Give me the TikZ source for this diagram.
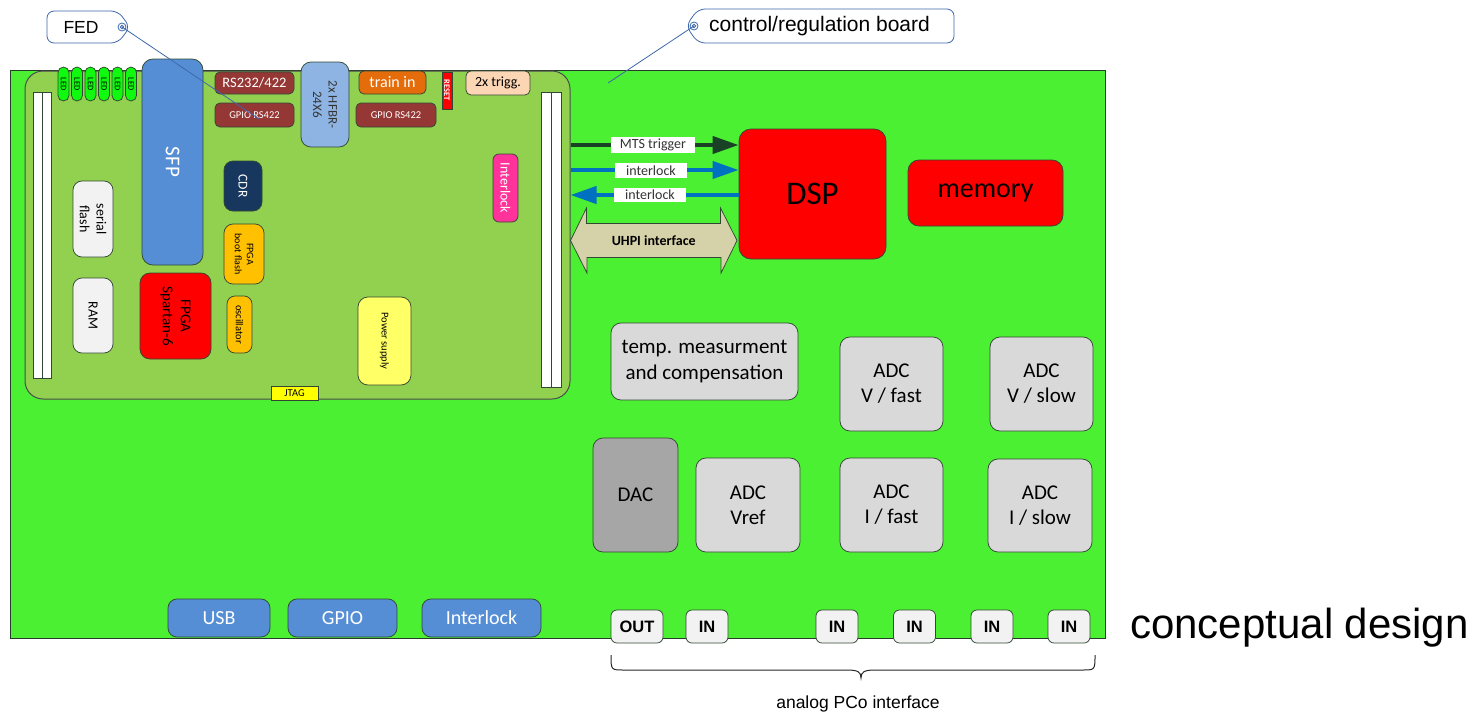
\documentclass[tikz,border=0pt]{standalone}
\usepackage{fontspec}
\setmainfont{Carlito}
\newfontfamily\arialfont{Liberation Sans}
\usetikzlibrary{arrows.meta,calc}
\newcommand\fsz[1]{\fontsize{#1}{\fpeval{1.2*#1}}\selectfont}

\definecolor{maingreen}{RGB}{76,240,50}
\definecolor{boardgreen}{RGB}{146,208,80}
\definecolor{edgec}{RGB}{50,72,52}
\definecolor{ledgreen}{RGB}{16,250,16}
\definecolor{sfpblue}{RGB}{85,142,213}
\definecolor{hfbrblue}{RGB}{142,180,227}
\definecolor{rsbrown}{RGB}{149,55,53}
\definecolor{trainorange}{RGB}{228,108,10}
\definecolor{peach}{RGB}{252,213,181}
\definecolor{navy}{RGB}{23,55,94}
\definecolor{gold}{RGB}{255,192,0}
\definecolor{chipgray}{RGB}{242,242,242}
\definecolor{pinkil}{RGB}{255,51,153}
\definecolor{psyellow}{RGB}{255,255,102}
\definecolor{jtagyellow}{RGB}{255,255,0}
\definecolor{mtsgreen}{RGB}{25,65,38}
\definecolor{ilblue}{RGB}{0,112,192}
\definecolor{uhpifill}{RGB}{213,209,168}
\definecolor{adcgray}{RGB}{217,217,217}
\definecolor{dacgray}{RGB}{166,166,166}
\definecolor{tagblue}{RGB}{62,104,172}

\begin{document}
\begin{tikzpicture}[x=1pt,y=-1pt,
  blk/.style={draw=edgec, line width=0.75pt, rounded corners=8pt, inner sep=0pt, align=center},
  dims/.style 2 args={minimum width=#1pt, minimum height=#2pt},
  rdims/.style 2 args={rotate=-90, minimum width=#2pt, minimum height=#1pt},
  bar/.style={draw=edgec, fill=white, line width=0.75pt, inner sep=0pt},
  lbl/.style={fill=white, inner sep=0pt, text=black!80, font=\fsz{14}},
  tag/.style={draw=tagblue, line width=0.8pt, rounded corners=7pt, fill=white},
  tagline/.style={draw=tagblue, line width=0.8pt},
  jack/.style={blk, fill=chipgray, rounded corners=6pt, font=\arialfont\bfseries\fsz{16.5}},
  adc/.style={blk, fill=adcgray, rounded corners=10pt, font=\fsz{21}},
  conn/.style={blk, fill=sfpblue, rounded corners=9pt, text=white, font=\fsz{20}, dims={#1}{38}},
]
\useasboundingbox (0,0) rectangle (1482,713);

% control/regulation board and the FED card on it
\node[draw=edgec!80!black, fill=maingreen, line width=0.8pt, inner sep=0pt, dims={1095}{568}] (main) at (557.5,354) {};
\node[draw=black!70, fill=boardgreen, line width=1pt, rounded corners=18pt, inner sep=0pt, dims={545}{328}] (fed) at (297.5,235) {};

% card edge connectors
\node[bar, dims={9}{286}] (lbarA) at (37.5,235) {};
\node[bar, dims={9}{286}] (lbarB) at (46.5,235) {};
\node[bar, dims={10}{295}] (rbarA) at (546,239.5) {};
\node[bar, dims={10}{295}] (rbarB) at (556,239.5) {};

% status LEDs
\foreach \x [count=\k] in {63.5,77,90.5,104,117.5,131}
  \node[blk, fill=ledgreen, rdims={11}{34}, rounded corners=5.5pt, font=\fsz{8.5}] (led\k) at (\x,84) {LED};

% FED card components
\node[blk, fill=sfpblue, rdims={61}{206}, rounded corners=11pt, text=white, font=\fsz{21}] (sfp) at (172.5,162) {SFP};
\node[blk, fill=rsbrown, dims={79}{22}, rounded corners=5pt, text=white, font=\fsz{14.5}] (rs232) at (254.5,83) {RS232/422};
\node[blk, fill=rsbrown, dims={79}{24}, rounded corners=5pt, text=white, font=\fsz{10.5}] (gpioL) at (254.5,115) {GPIO RS422};
\node[blk, fill=hfbrblue, rdims={48}{85}, rounded corners=10pt, text=black!80, font=\fsz{13}] (hfbr) at (325,104.5) {2x HFBR-\\24X6};
\node[blk, fill=trainorange, dims={67}{23}, rounded corners=5pt, text=white, font=\fsz{16}] (train) at (392.5,82.5) {train in};
\node[blk, fill=rsbrown, dims={80}{24}, rounded corners=5pt, text=white, font=\fsz{10.5}] (gpioR) at (396,115) {GPIO RS422};
\node[draw=edgec, fill=red, line width=0.5pt, inner sep=0pt, rdims={10}{37}, text=white, font=\bfseries\fsz{8.5}] (reset) at (447,90.5) {RESET};
\node[blk, fill=peach, dims={64}{24}, rounded corners=5pt, font=\fsz{14}] (trigg) at (498,83) {2x trigg.};
\node[blk, fill=navy, rdims={38}{50}, rounded corners=9pt, text=white, font=\fsz{13.5}] (cdr) at (243,186) {CDR};
\node[blk, fill=gold, rdims={40}{60}, rounded corners=9pt, font=\fsz{10}] (bootflash) at (244,254) {FPGA\\boot flash};
\node[blk, fill=gold, rdims={25}{57}, rounded corners=8pt, font=\fsz{10.5}] (osc) at (239.5,324.5) {oscillator};
\node[blk, fill=chipgray, rdims={40}{76}, rounded corners=9pt, font=\fsz{14}] (sflash) at (93,219) {serial\\flash};
\node[blk, fill=chipgray, rdims={40}{75}, rounded corners=9pt, font=\fsz{14}] (ram) at (93,315.5) {RAM};
\node[blk, fill=red, rdims={71}{86}, rounded corners=10pt, font=\fsz{15}] (fpga) at (175.5,316) {FPGA\\Spartan-6};
\node[draw=edgec, fill=jtagyellow, line width=0.6pt, inner sep=0pt, dims={47}{14}, font=\fsz{10.5}] (jtag) at (294.5,393) {JTAG};
\node[blk, fill=pinkil, rdims={25}{68}, rounded corners=6pt, text=white, font=\fsz{14}] (ilock) at (505.5,188) {Interlock};
\node[blk, fill=psyellow, rdims={53}{88}, rounded corners=10pt, font=\fsz{10.5}] (psu) at (384.5,341) {Power supply};

% DSP section
\node[blk, fill=red, dims={147}{130}, rounded corners=12pt, font=\fsz{33}] (dsp) at (812.5,194) {DSP};
\node[blk, fill=red, dims={155}{66}, rounded corners=11pt, font=\fsz{28}] (mem) at (985.5,193) {memory};

% signals between the FED card and the DSP
\coordinate (ymts) at (0,145);
\coordinate (yil1) at (0,170);
\coordinate (yil2) at (0,195);
\draw[line width=4pt, mtsgreen, -{Triangle[length=26pt,width=17pt]}] (fed.east |- ymts) -- (dsp.west |- ymts);
\draw[line width=4pt, ilblue, -{Triangle[length=26pt,width=17pt]}] (fed.east |- yil1) -- (dsp.west |- yil1);
\draw[line width=4pt, ilblue, -{Triangle[length=26pt,width=17pt]}] (dsp.west |- yil2) -- (fed.east |- yil2);
\node[lbl, dims={84}{16}] (mtslbl) at (653,145) {MTS trigger};
\node[lbl, dims={72}{15}] (il1lbl) at (651,170.5) {interlock};
\node[lbl, dims={72}{14}] (il2lbl) at (650,195) {interlock};

% UHPI bus as a double arrow
\coordinate (uL) at (fed.east |- 0,240.5);
\coordinate (uR) at (737,240.5);
\draw[draw=edgec, fill=uhpifill, line width=0.75pt]
  (uL) -- ++(16,-32.5) -- ++(0,15.5) -- ++(134,0) -- ++(0,-15.5) -- (uR)
  -- ++(-16,32.5) -- ++(0,-15.5) -- ++(-134,0) -- ++(0,15.5) -- cycle;
\node[font=\bfseries\fsz{14}, inner sep=0pt] (uhpi) at ($(uL)!0.5!(uR)$) {UHPI interface};

% analog front end
\node[adc, dims={187}{77}] (temp) at (704.5,361.5) {temp. measurment\\and compensation};
\node[adc, dims={103}{94}] (adcvf) at (891.5,384) {ADC\\V / fast};
\node[adc, dims={103}{94}] (adcvs) at (1041.5,384) {ADC\\V / slow};
\node[adc, fill=dacgray, dims={85}{114}] (dac) at (635.5,495) {DAC};
\node[adc, dims={104}{94}] (adcvref) at (748,505) {ADC\\Vref};
\node[adc, dims={103}{94}] (adcif) at (891.5,505) {ADC\\I / fast};
\node[adc, dims={104}{93}] (adcis) at (1040,505.5) {ADC\\I / slow};

% front panel connectors
\node[conn=102] (usb) at (219,618) {USB};
\node[conn=109] (gpio) at (342.5,618) {GPIO};
\node[conn=119] (ilconn) at (481.5,618) {Interlock};

% analog PCo jacks
\node[jack, dims={52}{33}] (out) at (637,626.5) {OUT};
\node[jack, dims={42}{33}] (in1) at (707,626.5) {IN};
\node[jack, dims={42}{33}] (in2) at (837,626.5) {IN};
\node[jack, dims={42}{33}] (in3) at (914.5,626.5) {IN};
\node[jack, dims={42}{33}] (in4) at (992,626.5) {IN};
\node[jack, dims={42}{33}] (in5) at (1069,626.5) {IN};

% brace under the jacks
\coordinate (bl) at (611,655);
\coordinate (br) at (1095,655);
\coordinate (btip) at (861,678);
\draw[line width=1pt, black!85]
  (bl) .. controls (611,670) and (611,670) .. (624,670) -- (847,670)
  .. controls (858,670) and (861,672) .. (btip)
  .. controls (861,672) and (864,670) .. (875,670) -- (1082,670)
  .. controls (1095,670) and (1095,670) .. (br);
\node[font=\arialfont\fsz{17.5}, anchor=north, inner sep=0pt] (pco) at (858,696) {analog PCo interface};

\node[font=\arialfont\fsz{42}, anchor=west, inner sep=0pt] (title) at (1130,628) {conceptual design};

% callout tags
\draw[tag] (47,11) -- (118,11) -- (130,27) -- (118,43) -- (47,43) -- cycle;
\node[font=\arialfont\fsz{17.5}, inner sep=0pt] (fedtag) at (81,27) {FED};
\coordinate (fedring) at (122,27);
\coordinate (fedpin) at (259,119);
\draw[tagline] (fedring) circle[radius=4pt] (fedring) circle[radius=1.8pt];
\draw[tagline] (fedring) -- (fedpin);

\draw[tag] (686,26) -- (698,9) -- (954,9) -- (954,43) -- (698,43) -- cycle;
\node[font=\arialfont\fsz{21}, anchor=west, inner sep=0pt] (boardtag) at (709,26) {control/regulation board};
\coordinate (boardring) at (694,26);
\coordinate (boardpin) at (608,83);
\draw[tagline] (boardring) circle[radius=4pt] (boardring) circle[radius=1.8pt];
\draw[tagline] (boardring) -- (boardpin);
\end{tikzpicture}
\end{document}
